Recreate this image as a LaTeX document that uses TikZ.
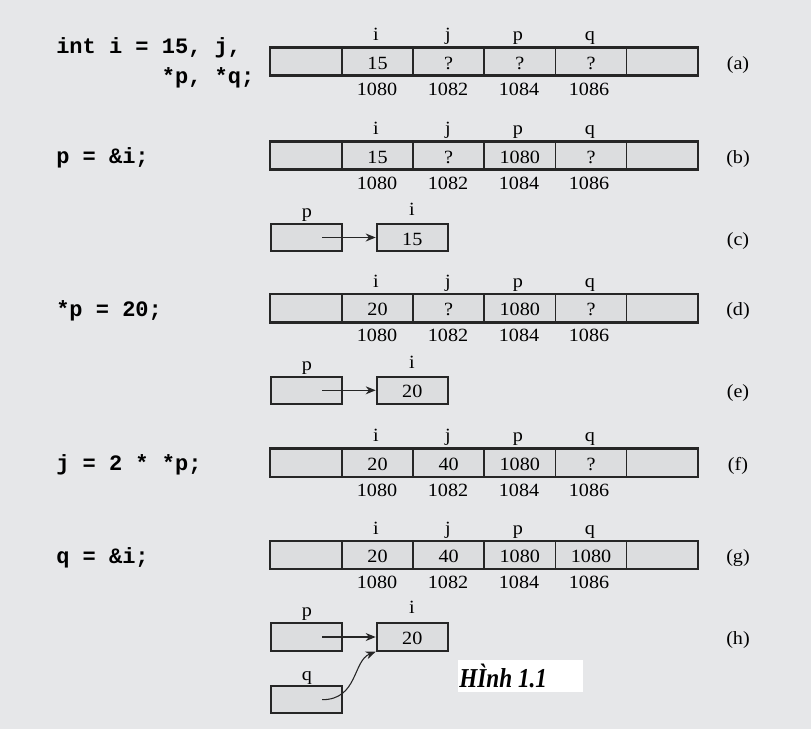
\documentclass[tikz,border=0pt]{standalone}
\usepackage{fontspec}
\setmainfont{Liberation Serif}[FakeStretch=1.08]
\setmonofont{Liberation Mono}
\newfontfamily\capfont{Liberation Serif}[FakeStretch=0.85]
\usetikzlibrary{arrows.meta}
\definecolor{bg}{RGB}{230,231,233}
\definecolor{cellfill}{RGB}{220,221,223}
\definecolor{edge}{RGB}{38,38,38}
\newcommand\mynum{\fontsize{14pt}{16pt}\selectfont}
\newcommand\mycode{\ttfamily\bfseries\fontsize{16.5pt}{19pt}\selectfont}
\tikzset{
  cell/.style={draw=edge, fill=cellfill, line width=1.1pt, minimum width=53.4pt,
    minimum height=20.5pt, inner sep=0pt, text height=11.25pt, text depth=0pt, font=\mynum},
  pbox/.style={cell, line width=1.5pt},
  lab/.style={anchor=base, inner sep=0pt, font=\mynum},
  code/.style={anchor=base west, inner sep=0pt, font=\mycode},
  tag/.style={anchor=base, inner sep=0pt, font=\mynum},
  ptr/.style={-{Stealth[length=7.5pt,width=6pt]}, line width=0.8pt, draw=edge},
  outer/.style={draw=edge, line width=1.5pt},
}
\newcommand\memrow[7]{%
  \node[cell] (#1c0) at (306.3,#2) {};
  \node[cell] (#1c1) at (377.5,#2) {#3};
  \node[cell] (#1c2) at (448.6,#2) {#4};
  \node[cell] (#1c3) at (519.8,#2) {#5};
  \node[cell] (#1c4) at (591.0,#2) {#6};
  \node[cell] (#1c5) at (662.1,#2) {};
  \draw[outer] (#1c0.north west) rectangle (#1c5.south east);
  \node[lab] (#1ni) at (376,#2-20.8) {i};
  \node[lab] (#1nj) at (448,#2-20.8) {j};
  \node[lab] (#1np) at (518,#2-20.8) {p};
  \node[lab] (#1nq) at (590,#2-20.8) {q};
  \node[lab] (#1ai) at (377,#2+33.5) {1080};
  \node[lab] (#1aj) at (448,#2+33.5) {1082};
  \node[lab] (#1ap) at (519,#2+33.5) {1084};
  \node[lab] (#1aq) at (589,#2+33.5) {1086};
  \node[tag] (#1t) at (738,#2+7.5) {(#7)};
}
\begin{document}
\begin{tikzpicture}[x=0.75pt,y=-0.75pt]
\fill[bg] (0,0) rectangle (811,729);
\useasboundingbox (0,0) rectangle (811,729);

% (a)
\node[code] (codea1) at (56,53.3) {int i = 15, j,};
\node[code] (codea2) at (161.6,83) {*p, *q;};
\memrow{a}{61.5}{15}{?}{?}{?}{a}

% (b)
\node[code] (codeb) at (56,163.5) {p = \&i;};
\memrow{b}{155.5}{15}{?}{1080}{?}{b}

% (c)
\node[pbox] (cp) at (306.7,237.5) {};
\node[pbox] (ci) at (412.3,237.5) {15};
\node[lab] (cpl) at (307,217.5) {p};
\node[lab] (cil) at (412,215) {i};
\coordinate (cps) at ([xshift=11.5pt]cp.center);
\draw[ptr] (cps) -- (ci.west);
\node[tag] (ct) at (738,245) {(c)};

% (d)
\node[code] (coded) at (56,316.5) {*p = 20;};
\memrow{d}{308.3}{20}{?}{1080}{?}{d}

% (e)
\node[pbox] (ep) at (306.7,390.3) {};
\node[pbox] (ei) at (412.3,390.3) {20};
\node[lab] (epl) at (307,370.5) {p};
\node[lab] (eil) at (412,368) {i};
\coordinate (eps) at ([xshift=11.5pt]ep.center);
\draw[ptr] (eps) -- (ei.west);
\node[tag] (et) at (738,397.8) {(e)};

% (f)
\node[code] (codef) at (56,470.7) {j = 2 * *p;};
\memrow{f}{462.7}{20}{40}{1080}{?}{f}

% (g)
\node[code] (codeg) at (56,563) {q = \&i;};
\memrow{g}{555}{20}{40}{1080}{1080}{g}

% (h)
\node[pbox] (hp) at (306.7,637) {};
\node[pbox] (hi) at (412.3,637) {20};
\node[pbox] (hq) at (306.7,699.7) {};
\node[lab] (hpl) at (307,616.7) {p};
\node[lab] (hil) at (412,613.5) {i};
\node[lab] (hql) at (307,680) {q};
\coordinate (hps) at ([xshift=11.5pt]hp.center);
\coordinate (hqs) at ([xshift=11.5pt]hq.center);
\draw[ptr] (hps) -- (hi.west);
\draw[ptr] (hqs) .. controls +(36,0) and +(-23,9) .. (hi.south west);
\node[tag] (ht) at (738,644.5) {(h)};

% caption
\node[fill=white, minimum width=93.5pt, minimum height=23.8pt, inner sep=0pt] (capbox) at (520.3,675.9) {};
\node[anchor=base west, inner sep=0pt, font={\capfont\bfseries\itshape\fontsize{20.5pt}{24pt}\selectfont}] (cap) at (459,687.7) {HÌnh 1.1};
\end{tikzpicture}
\end{document}
